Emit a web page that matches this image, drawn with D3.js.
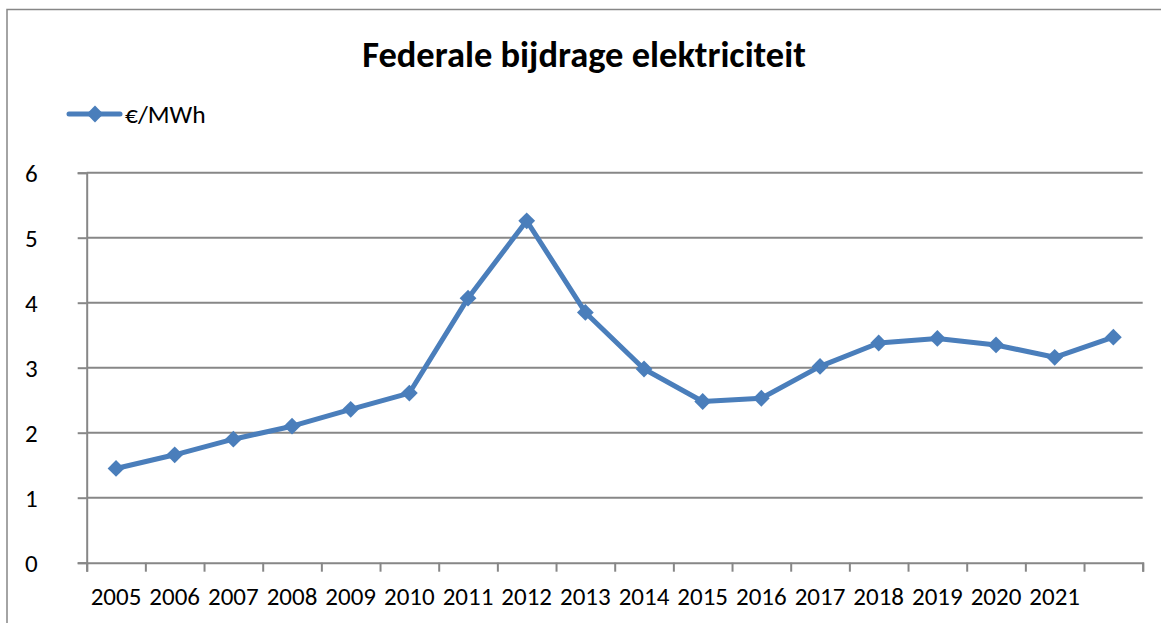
<!DOCTYPE html>
<html><head><meta charset="utf-8">
<script src="https://cdn.jsdelivr.net/npm/d3@7"></script>
<style>
html,body{margin:0;padding:0;background:#fff;}
svg{display:block;}
text{font-family:Carlito,Calibri,Lato,"Liberation Sans",sans-serif;fill:#000;}
</style></head>
<body>
<script>
const title = "Federale bijdrage elektriciteit";
const seriesName = "€/MWh";
const categories = ["2005","2006","2007","2008","2009","2010","2011","2012","2013","2014","2015","2016","2017","2018","2019","2020","2021","2022"];
const tickLabels = ["2005","2006","2007","2008","2009","2010","2011","2012","2013","2014","2015","2016","2017","2018","2019","2020","2021",""];
const values = [1.45,1.66,1.90,2.10,2.36,2.61,4.07,5.26,3.85,2.98,2.48,2.53,3.02,3.38,3.45,3.35,3.16,3.47];
const yTicks = [0,1,2,3,4,5,6];

const W = 1161, H = 623;
const mLeft = 86.7, mRight = 1142.7, mTop = 172.7, mBottom = 562.7;
const blue = "#4A7EBB", gray = "#878787";
const fs = 25;

const svg = d3.select("body").append("svg").attr("width", W).attr("height", H);

// frame
svg.append("path").attr("d", `M7,${H} V9.5 H${W}`).attr("fill","none").attr("stroke",gray).attr("stroke-width",1.5);

const x = d3.scaleBand().domain(categories).range([mLeft, mRight]).padding(0);
const xb = d3.scaleLinear().domain([0, categories.length]).range([mLeft, mRight]);
const y = d3.scaleLinear().domain([0, 6]).range([mBottom, mTop]);

// gridlines
svg.append("g").selectAll("line").data(yTicks.filter(d => d > 0)).join("line")
  .attr("x1", mLeft).attr("x2", mRight).attr("y1", d => y(d)).attr("y2", d => y(d))
  .attr("stroke", gray).attr("stroke-width", 2);

// y axis
const yAxis = svg.append("g").attr("transform", `translate(${mLeft},0)`)
  .call(d3.axisLeft(y).tickValues(yTicks).tickSize(9).tickPadding(40).tickFormat(d3.format("d")));
yAxis.select(".domain").attr("stroke", gray).attr("stroke-width", 2);
yAxis.selectAll(".tick line").attr("stroke", gray).attr("stroke-width", 2);
yAxis.selectAll(".tick text").attr("font-size", fs).attr("font-family", null).attr("fill", "#000").attr("dy", "0.36em");

// x axis (ticks at category boundaries)
const xAxis = svg.append("g").attr("transform", `translate(0,${mBottom})`)
  .call(d3.axisBottom(xb).tickValues(d3.range(0, categories.length + 1)).tickSize(9).tickFormat(""));
xAxis.select(".domain").attr("stroke", gray).attr("stroke-width", 2);
xAxis.selectAll(".tick line").attr("stroke", gray).attr("stroke-width", 2);

svg.append("g").selectAll("text").data(categories).join("text")
  .attr("x", d => x(d) + x.bandwidth() / 2).attr("y", 605)
  .attr("text-anchor", "middle").attr("font-size", fs)
  .text((d, i) => tickLabels[i]);

// line
const line = d3.line().x((d, i) => x(categories[i]) + x.bandwidth() / 2).y(d => y(d));
svg.append("path").datum(values).attr("d", line).attr("fill", "none")
  .attr("stroke", blue).attr("stroke-width", 5).attr("stroke-linejoin", "round");

const diamond = d3.symbol().type(d3.symbolDiamond2).size(180);
svg.append("g").selectAll("path").data(values).join("path")
  .attr("transform", (d, i) => `translate(${x(categories[i]) + x.bandwidth() / 2},${y(d)})`)
  .attr("d", diamond).attr("fill", blue);

// title
svg.append("text").attr("x", 584).attr("y", 66.5).attr("text-anchor", "middle")
  .attr("font-size", 36.5).attr("font-weight", "bold").text(title);

// legend
const lg = svg.append("g");
lg.append("line").attr("x1", 69).attr("x2", 120).attr("y1", 114).attr("y2", 114)
  .attr("stroke", blue).attr("stroke-width", 5).attr("stroke-linecap", "round");
lg.append("path").attr("transform", "translate(95,114)").attr("d", diamond).attr("fill", blue);
lg.append("text").attr("x", 125).attr("y", 122.5).attr("font-size", 25.5).text(seriesName);
</script>
</body></html>
